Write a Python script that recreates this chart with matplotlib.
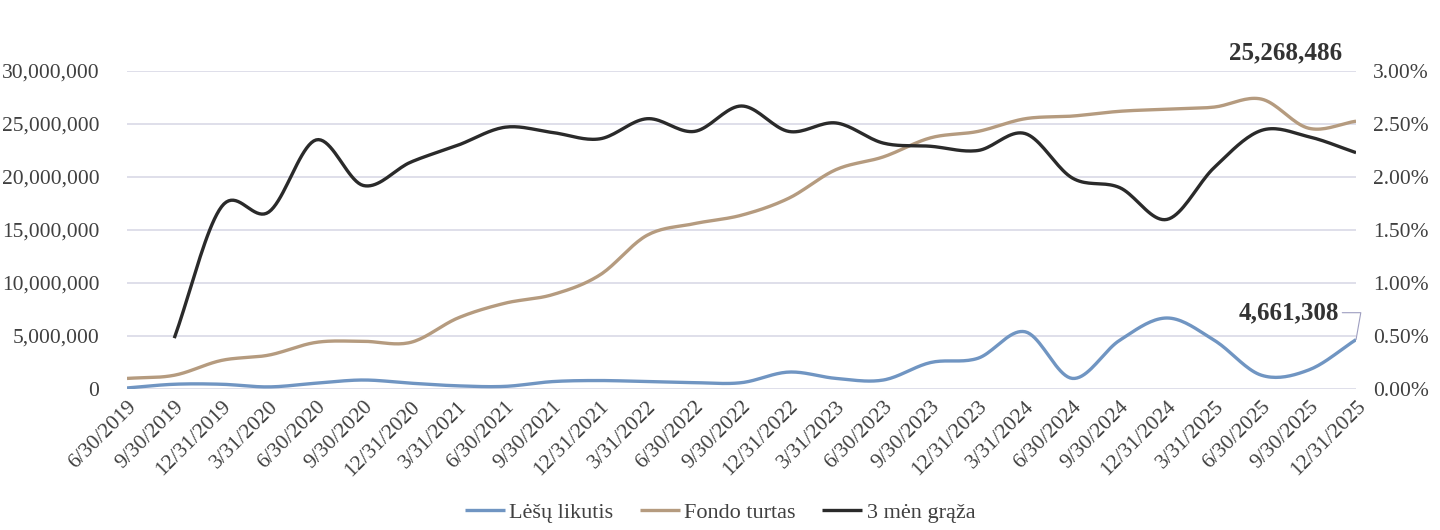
import numpy as np
import matplotlib
matplotlib.use("Agg")
import matplotlib.pyplot as plt
from matplotlib.ticker import FuncFormatter, MultipleLocator

# --- duomenys ---
dates = ["6/30/2019", "9/30/2019", "12/31/2019", "3/31/2020", "6/30/2020", "9/30/2020",
         "12/31/2020", "3/31/2021", "6/30/2021", "9/30/2021", "12/31/2021", "3/31/2022",
         "6/30/2022", "9/30/2022", "12/31/2022", "3/31/2023", "6/30/2023", "9/30/2023",
         "12/31/2023", "3/31/2024", "6/30/2024", "9/30/2024", "12/31/2024", "3/31/2025",
         "6/30/2025", "9/30/2025", "12/31/2025"]

lesu_likutis = [100000, 450000, 450000, 200000, 550000, 850000, 550000, 300000, 250000,
                700000, 800000, 700000, 600000, 600000, 1600000, 1000000, 850000, 2500000,
                2900000, 5400000, 1000000, 4600000, 6700000, 4600000, 1300000, 1800000, 4661308]

fondo_turtas = [1000000, 1300000, 2700000, 3200000, 4400000, 4500000, 4400000, 6700000,
                8100000, 8900000, 10750000, 14500000, 15600000, 16400000, 18000000, 20700000,
                21900000, 23700000, 24300000, 25500000, 25750000, 26200000, 26400000,
                26600000, 27350000, 24600000, 25268486]

# 3 men. graza, % (pradzia nuo 9/30/2019)
graza = [None, 0.48, 1.72, 1.67, 2.35, 1.92, 2.14, 2.30, 2.47, 2.42, 2.36, 2.55, 2.43,
         2.67, 2.43, 2.51, 2.32, 2.29, 2.25, 2.41, 1.99, 1.90, 1.60, 2.09, 2.44, 2.38, 2.23]


def smooth(x, y, n=20):
    # Catmull-Rom, panasiai kaip Excel "smoothed line"
    x = np.asarray(x, float)
    y = np.asarray(y, float)
    px = np.concatenate([[2 * x[0] - x[1]], x, [2 * x[-1] - x[-2]]])
    py = np.concatenate([[2 * y[0] - y[1]], y, [2 * y[-1] - y[-2]]])
    xs, ys = [], []
    t = np.linspace(0, 1, n, endpoint=False)
    for i in range(1, len(px) - 2):
        for arr, out in ((px, xs), (py, ys)):
            p0, p1, p2, p3 = arr[i - 1], arr[i], arr[i + 1], arr[i + 2]
            out.extend(0.5 * ((2 * p1) + (-p0 + p2) * t +
                              (2 * p0 - 5 * p1 + 4 * p2 - p3) * t ** 2 +
                              (-p0 + 3 * p1 - 3 * p2 + p3) * t ** 3))
    xs.append(x[-1])
    ys.append(y[-1])
    return np.array(xs), np.array(ys)


plt.rcParams["font.family"] = ["Liberation Serif", "DejaVu Serif"]
txt = "#404040"
grid_c = "#d9d9e6"
c_blue = "#7095c2"
c_tan = "#b59b7f"
c_black = "#2a2a2a"

fig = plt.figure(figsize=(14.4, 5.3), dpi=100)
ax = fig.add_axes([0.0882, 0.266, 0.8535, 0.6])
ax2 = ax.twinx()

x = np.arange(len(dates))

sx, sy = smooth(x, lesu_likutis)
l1, = ax.plot(sx, sy, color=c_blue, lw=2.4, solid_capstyle="butt", label="Lėšų likutis")
sx, sy = smooth(x, fondo_turtas)
l2, = ax.plot(sx, sy, color=c_tan, lw=2.4, solid_capstyle="butt", label="Fondo turtas")

gx = [i for i, v in enumerate(graza) if v is not None]
gy = [v for v in graza if v is not None]
sx, sy = smooth(gx, gy)
l3, = ax2.plot(sx, sy, color=c_black, lw=2.4, solid_capstyle="butt", label="3 mėn grąža")

ax.set_xlim(0, len(dates) - 1)
ax.set_ylim(0, 30000000)
ax2.set_ylim(0, 3.0)
ax.yaxis.set_major_locator(MultipleLocator(5000000))
ax2.yaxis.set_major_locator(MultipleLocator(0.5))
ax.yaxis.set_major_formatter(FuncFormatter(lambda v, p: f"{v:,.0f}"))
ax2.yaxis.set_major_formatter(FuncFormatter(lambda v, p: f"{v:.2f}%"))

ax.grid(axis="y", color=grid_c, lw=1.2)
ax.set_axisbelow(True)
for a in (ax, ax2):
    for s in a.spines.values():
        s.set_visible(False)
    a.tick_params(length=0, colors=txt, labelsize=15.5)
ax.tick_params(axis="y", pad=20)
ax2.tick_params(axis="y", pad=12)

ax.set_xticks(x)
ax.set_xticklabels(dates, rotation=45, ha="right", rotation_mode="anchor")
ax.tick_params(axis="x", pad=6, labelsize=15.5)

# paskutiniu reiksmiu uzrasai
ax.text(len(dates) - 2.5, 31700000, f"{fondo_turtas[-1]:,}", fontsize=18,
        fontweight="bold", color="#333333", ha="center", va="center")
ax.annotate(f"{lesu_likutis[-1]:,}", xy=(len(dates) - 1, lesu_likutis[-1]),
            xytext=(len(dates) - 1.35, 7200000), fontsize=18, fontweight="bold",
            color="#333333", ha="right", va="center",
            arrowprops=dict(arrowstyle="-", color="#9e9ec0", lw=0.8,
                            connectionstyle="angle,angleA=0,angleB=80,rad=0",
                            shrinkA=0, shrinkB=0))

fig.legend(handles=[l1, l2, l3], loc="lower center", bbox_to_anchor=(0.5, -0.025),
           ncol=3, frameon=False, fontsize=16, handlelength=1.8, handletextpad=0.2,
           columnspacing=1.2, labelcolor=txt)

fig.savefig("out.png", dpi=100)
